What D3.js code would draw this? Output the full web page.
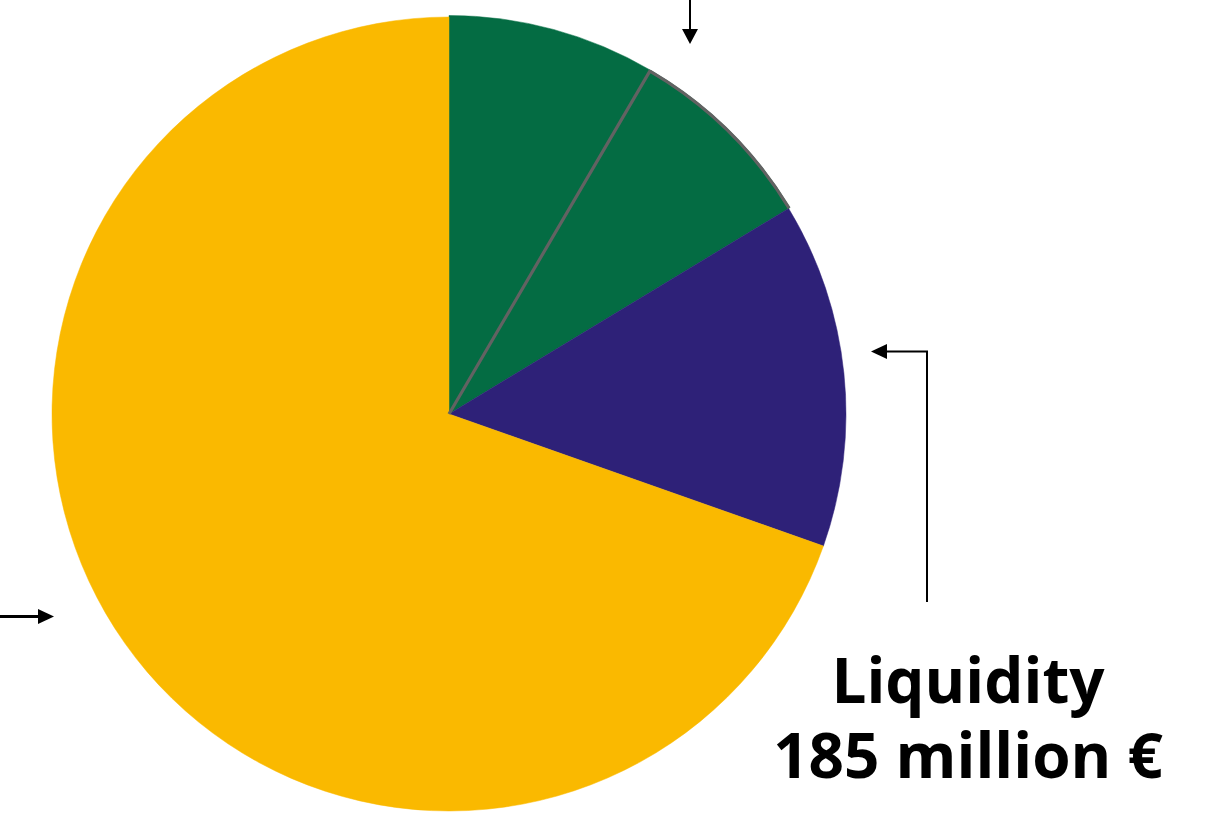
<!DOCTYPE html>
<html>
<head>
<meta charset="utf-8">
<script src="https://cdn.jsdelivr.net/npm/d3@7"></script>
<style>
  html, body { margin: 0; padding: 0; background: #ffffff; }
  svg { display: block; }
</style>
</head>
<body>
<svg id="chart" width="1215" height="813"></svg>
<script>
// ---- data ----
const categories = ["Slice A", "Slice B", "Liquidity", "Slice D"];
const values = [111, 104, 185, 916];
const colors = ["#046C43", "#046C43", "#2E2178", "#FAB900"];
const labelLines = ["Liquidity", "185 million \u20AC"];

// ---- layout ----
const W = 1215, H = 813;
const cx = 449, cy = 414, R = 397;

const svg = d3.select("#chart");
const g = svg.append("g").attr("transform", `translate(${cx},${cy})`);

const data = categories.map((c, i) => ({ name: c, value: values[i], color: colors[i] }));
const pie = d3.pie().value(d => d.value).sort(null).startAngle(0).endAngle(2 * Math.PI);
const arcs = pie(data);
const arc = d3.arc().innerRadius(0).outerRadius(R);
const arcG = d3.arc().innerRadius(0).outerRadius(R + 1.5);

g.selectAll("path.slice")
  .data(arcs)
  .enter().append("path")
  .attr("class", "slice")
  .attr("d", d => (d.data.color === "#046C43" ? arcG(d) : arc(d)))
  .attr("fill", d => d.data.color)
  .attr("stroke", d => d.data.color)
  .attr("stroke-width", 0.5);

// gray outline on second green slice: start radius + outer arc
const s2 = arcs[1];
const Rg = R + 1.5;
const p0 = [Math.sin(s2.startAngle) * Rg, -Math.cos(s2.startAngle) * Rg];
const outline = d3.path();
outline.moveTo(0, 0);
outline.lineTo(p0[0], p0[1]);
outline.arc(0, 0, Rg - 1, s2.startAngle - Math.PI / 2, s2.endAngle - Math.PI / 2, false);
g.append("path")
  .attr("d", outline.toString())
  .attr("fill", "none")
  .attr("stroke", "#626262")
  .attr("stroke-width", 3.2);

// ---- arrows ----
const defs = svg.append("defs");
function marker(id, w, h) {
  defs.append("marker")
    .attr("id", id)
    .attr("viewBox", `0 0 ${w} ${h}`)
    .attr("refX", 0).attr("refY", h / 2)
    .attr("markerWidth", w).attr("markerHeight", h)
    .attr("markerUnits", "userSpaceOnUse")
    .attr("orient", "auto")
    .append("path")
    .attr("d", `M0,0 L${w},${h / 2} L0,${h} Z`)
    .attr("fill", "#000");
}
marker("headTop", 15, 16);
marker("headLeft", 16, 15);
marker("headLiq", 16, 15);

// top arrow
svg.append("path")
  .attr("d", "M690,0 L690,29")
  .attr("stroke", "#000").attr("stroke-width", 2).attr("fill", "none")
  .attr("marker-end", "url(#headTop)");

// left arrow
svg.append("path")
  .attr("d", "M0,616.5 L38,616.5")
  .attr("stroke", "#000").attr("stroke-width", 3).attr("fill", "none")
  .attr("marker-end", "url(#headLeft)");

// liquidity arrow
svg.append("path")
  .attr("d", "M927,602 L927,351.5 L887,351.5")
  .attr("stroke", "#000").attr("stroke-width", 2).attr("fill", "none")
  .attr("marker-end", "url(#headLiq)");

// ---- label ----
const label = svg.append("text")
  .attr("x", 968)
  .attr("y", 703)
  .attr("text-anchor", "middle")
  .attr("font-family", "'Open Sans', 'Noto Sans', sans-serif")
  .attr("font-weight", "bold")
  .attr("font-size", 62)
  .attr("fill", "#000");
label.selectAll("tspan")
  .data(labelLines)
  .enter().append("tspan")
  .attr("x", 968)
  .attr("dy", (d, i) => (i === 0 ? 0 : 75))
  .text(d => d);
</script>
</body>
</html>
